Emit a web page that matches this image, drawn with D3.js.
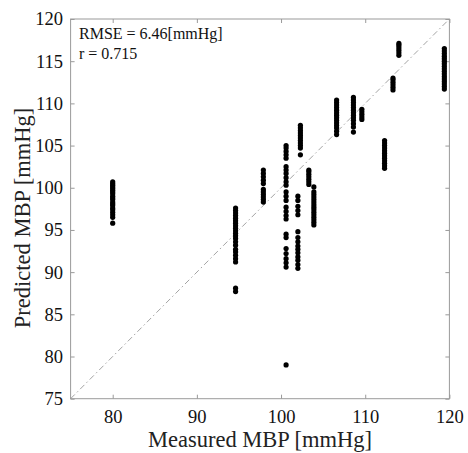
<!DOCTYPE html>
<html><head><meta charset="utf-8">
<script src="https://cdn.jsdelivr.net/npm/d3@7"></script>
<style>
html,body{margin:0;padding:0;background:#fff;}
svg{display:block;font-family:"Liberation Serif","Times New Roman",serif;}
</style></head>
<body><svg id="c" width="468" height="453"></svg>
<script>
// Measured MBP levels (x) and predicted MBP values (y) at each level
const measuredLevels = [80, 94.6, 97.9, 100.6, 102.0, 102.3, 103.3, 103.9, 106.6, 108.6, 109.6, 112.3, 113.3, 114.0, 119.4];
const predictedAt80 = [95.8, 96.5, 96.8, 97.1, 97.4, 97.6, 97.9, 98.1, 98.3, 98.6, 98.8, 99.0, 99.3, 99.5, 99.7, 99.9, 100.1, 100.3, 100.5, 100.7];
const predictedAt94_6 = [87.7, 88.1, 91.2, 91.6, 92.0, 92.4, 92.7, 93.2, 93.6, 94.0, 94.3, 94.6, 94.9, 95.2, 95.5, 95.8, 96.1, 96.4, 96.7, 97.0, 97.3, 97.6];
const predictedAt97_9 = [98.3, 98.6, 98.9, 99.2, 99.5, 99.8, 100.5, 100.9, 101.3, 101.7, 102.1];
const predictedAt100_6 = [79.0, 90.6, 91.1, 91.6, 92.2, 92.8, 94.1, 94.5, 96.3, 96.7, 97.2, 97.7, 98.5, 99.0, 99.5, 100.3, 100.7, 101.2, 101.7, 102.1, 102.5, 103.5, 103.9, 104.3, 104.7, 105.0];
const predictedAt102_0 = [90.45, 90.9, 91.4, 91.8, 92.3, 92.7, 93.1, 93.6, 94.1, 94.8, 96.8, 97.3, 97.8, 98.5, 99.0];
const predictedAt102_3 = [103.9, 104.7, 105.0, 105.3, 105.6, 105.9, 106.2, 106.5, 106.8, 107.1, 107.4];
const predictedAt103_3 = [100.4, 100.7, 101.0, 101.3, 101.6, 101.9, 102.1];
const predictedAt103_9 = [95.6, 95.9, 96.2, 96.5, 96.8, 97.1, 97.4, 97.7, 98.0, 98.3, 98.6, 98.9, 99.2, 99.5, 100.1];
const predictedAt106_6 = [106.3, 106.7, 107.1, 107.4, 107.7, 108.0, 108.3, 108.6, 108.9, 109.2, 109.5, 109.8, 110.1, 110.4];
const predictedAt108_6 = [106.6, 107.2, 107.6, 108.0, 108.3, 108.6, 108.9, 109.2, 109.5, 109.8, 110.1, 110.4, 110.7];
const predictedAt109_6 = [108.1, 108.4, 108.7, 109.0, 109.3];
const predictedAt112_3 = [102.3, 102.6, 102.9, 103.2, 103.5, 103.8, 104.1, 104.4, 104.7, 105.0, 105.3, 105.6];
const predictedAt113_3 = [111.6, 111.9, 112.2, 112.5, 112.8, 113.0];
const predictedAt114_0 = [115.7, 116.0, 116.3, 116.6, 116.9, 117.1];
const predictedAt119_4 = [111.7, 112.0, 112.3, 112.6, 112.9, 113.2, 113.5, 113.8, 114.1, 114.4, 114.7, 115.0, 115.3, 115.6, 115.9, 116.2, 116.5];
const predictedGroups = [predictedAt80, predictedAt94_6, predictedAt97_9, predictedAt100_6, predictedAt102_0, predictedAt102_3, predictedAt103_3, predictedAt103_9, predictedAt106_6, predictedAt108_6, predictedAt109_6, predictedAt112_3, predictedAt113_3, predictedAt114_0, predictedAt119_4];

const xTicks = [80, 90, 100, 110, 120];
const yTicks = [75, 80, 85, 90, 95, 100, 105, 110, 115, 120];
const domain = [75, 120];
const annotations = ["RMSE = 6.46[mmHg]", "r = 0.715"];
const xLabel = "Measured MBP [mmHg]";
const yLabel = "Predicted MBP [mmHg]";

const points = [];
measuredLevels.forEach((m, i) => predictedGroups[i].forEach(p => points.push({m, p})));

const svg = d3.select("#c");
const L = 70.6, R = 449.4, T = 19, B = 398.7;
const x = d3.scaleLinear().domain(domain).range([L, R]);
const y = d3.scaleLinear().domain(domain).range([B, T]);
const axisColor = "#9a9a9a";
const tk = 4;

// box
svg.append("rect").attr("x", L).attr("y", T).attr("width", R - L).attr("height", B - T)
  .attr("fill", "none").attr("stroke", axisColor).attr("stroke-width", 1);

// inward ticks on all sides
const styleAxis = g => {
  g.select(".domain").remove();
  g.selectAll(".tick line").attr("stroke", axisColor);
  g.selectAll(".tick text").attr("fill", "#111").attr("font-size", 18.5)
    .attr("font-family", "'Liberation Serif','Times New Roman',serif");
};
svg.append("g").attr("transform", `translate(0,${B})`)
  .call(d3.axisBottom(x).tickValues(xTicks).tickSize(-tk).tickPadding(11).tickFormat(d3.format("d")))
  .call(styleAxis);
svg.append("g").attr("transform", `translate(0,${T})`)
  .call(d3.axisTop(x).tickValues(xTicks).tickSize(-tk).tickFormat(""))
  .call(styleAxis);
svg.append("g").attr("transform", `translate(${L},0)`)
  .call(d3.axisLeft(y).tickValues(yTicks).tickSize(-tk).tickPadding(7.5).tickFormat(d3.format("d")))
  .call(styleAxis);
svg.append("g").attr("transform", `translate(${R},0)`)
  .call(d3.axisRight(y).tickValues(yTicks).tickSize(-tk).tickFormat(""))
  .call(styleAxis);

// identity line (dash-dot)
svg.append("line")
  .attr("x1", x(domain[0])).attr("y1", y(domain[0]))
  .attr("x2", x(domain[1])).attr("y2", y(domain[1]))
  .attr("stroke", "#999").attr("stroke-width", 0.9)
  .attr("stroke-dasharray", "6,3,1.5,3");

// points
svg.append("g").selectAll("circle").data(points).join("circle")
  .attr("cx", d => x(d.m)).attr("cy", d => y(d.p)).attr("r", 2.6)
  .attr("fill", "#000");

// annotations
svg.append("g").selectAll("text").data(annotations).join("text")
  .attr("x", 79).attr("y", (d, i) => 39 + i * 20)
  .attr("font-size", 16).attr("fill", "#111").text(d => d);

// axis labels
svg.append("text").attr("x", (L + R) / 2).attr("y", 447)
  .attr("text-anchor", "middle").attr("font-size", 22.5).attr("fill", "#222").text(xLabel);
svg.append("text").attr("transform", `translate(30,218) rotate(-90)`)
  .attr("text-anchor", "middle").attr("font-size", 22.5).attr("fill", "#222").text(yLabel);
</script></body></html>
